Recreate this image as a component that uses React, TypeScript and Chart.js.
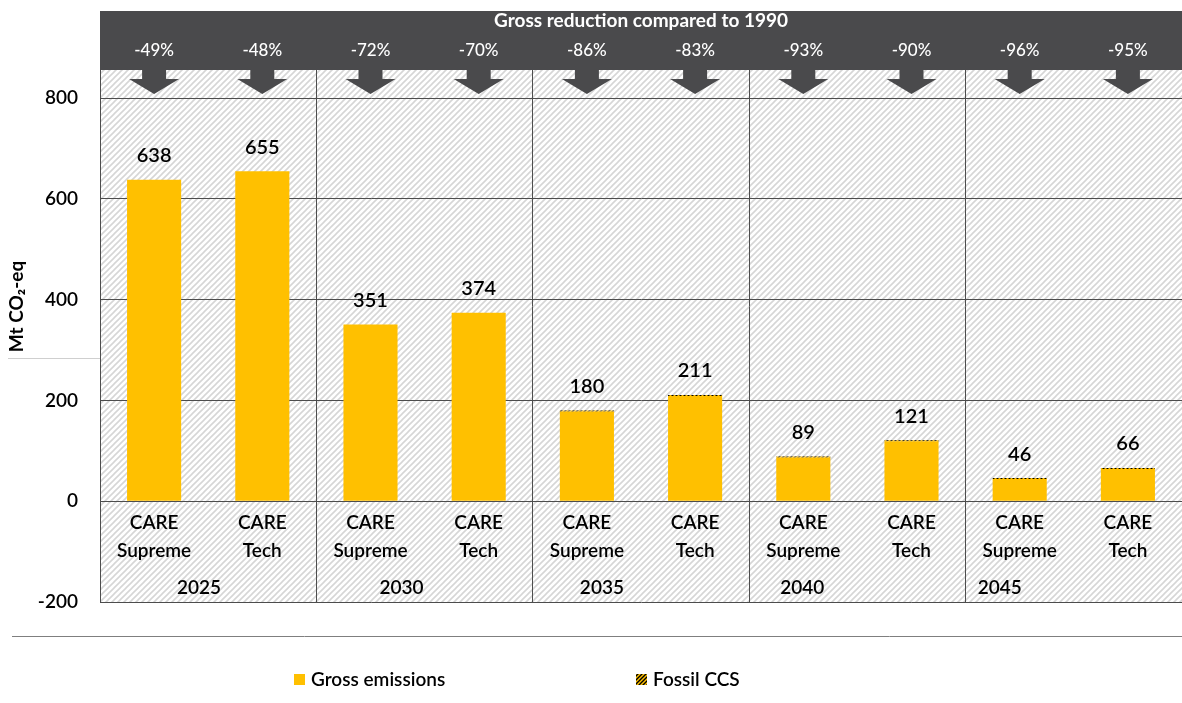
import React, { useEffect, useRef } from 'react';
import { Chart, registerables } from 'chart.js';

Chart.register(...registerables);

// ---------- data ----------
const categories: string[][] = [
  ['CARE', 'Supreme'], ['CARE', 'Tech'],
  ['CARE', 'Supreme'], ['CARE', 'Tech'],
  ['CARE', 'Supreme'], ['CARE', 'Tech'],
  ['CARE', 'Supreme'], ['CARE', 'Tech'],
  ['CARE', 'Supreme'], ['CARE', 'Tech'],
];
const years = ['2025', '2030', '2035', '2040', '2045'];
const grossEmissions = [638, 655, 351, 374, 178, 209, 87, 119, 44, 64];
const fossilCCS = [0, 0, 0, 0, 2, 2, 2, 2, 2, 2];
const reductions = ['-49%', '-48%', '-72%', '-70%', '-86%', '-83%', '-93%', '-90%', '-96%', '-95%'];
const yTicks = [-200, 0, 200, 400, 600, 800];
const bannerTitle = 'Gross reduction compared to 1990';
const seriesNames = ['Gross emissions', 'Fossil CCS'];

// ---------- style ----------
const FONT = 'Lato, "Noto Sans", sans-serif';
const W = 600;
const GOLD = '#FFC000';
const GRID = '#4d4d4d';
const BANNER = '#4a4a4c';

function makeHatch(bg: string, fg: string, size: number, lw: number) {
  const c = document.createElement('canvas');
  c.width = size;
  c.height = size;
  const g = c.getContext('2d')!;
  g.fillStyle = bg;
  g.fillRect(0, 0, size, size);
  g.strokeStyle = fg;
  g.lineWidth = lw;
  g.beginPath();
  g.moveTo(0, size); g.lineTo(size, 0);
  g.moveTo(-size / 2, size / 2); g.lineTo(size / 2, -size / 2);
  g.moveTo(size / 2, size * 1.5); g.lineTo(size * 1.5, size / 2);
  g.stroke();
  return g.createPattern(c, 'repeat')!;
}

export default function App() {
  const ref = useRef<HTMLCanvasElement | null>(null);

  useEffect(() => {
    if (!ref.current) return;
    const bgHatch = makeHatch('#ffffff', '#d6d6d6', 6, 1.6);
    const ccsHatch = makeHatch(GOLD, '#000000', 4, 1.4);

    const yearOffsets = [45, 31, 15, -1, -20];

    const decor = {
      id: 'decor',
      beforeDraw(chart: any) {
        const { ctx, chartArea: a } = chart;
        ctx.save();
        ctx.fillStyle = bgHatch;
        ctx.fillRect(a.left, a.top, a.right - a.left, a.bottom - a.top);
        ctx.strokeStyle = '#cfcfcf';
        ctx.lineWidth = 1;
        ctx.beginPath();
        ctx.moveTo(8, 358.5);
        ctx.lineTo(a.left, 358.5);
        ctx.stroke();
        ctx.strokeStyle = '#7f7f7f';
        ctx.beginPath();
        ctx.moveTo(12, 636.5);
        ctx.lineTo(chart.width, 636.5);
        ctx.stroke();
        ctx.restore();
      },
      afterDatasetsDraw(chart: any) {
        const { ctx } = chart;
        const y = chart.scales.y;
        const meta = chart.getDatasetMeta(0);
        ctx.save();
        ctx.font = `${W} 20px ${FONT}`;
        ctx.fillStyle = '#000';
        ctx.textAlign = 'center';
        ctx.textBaseline = 'middle';
        grossEmissions.forEach((v, i) => {
          const total = v + fossilCCS[i];
          const bar = meta.data[i];
          ctx.fillText(String(total), bar.x, y.getPixelForValue(total) - 24);
        });
        ctx.restore();
      },
      afterDraw(chart: any) {
        const { ctx, chartArea: a } = chart;
        const x = chart.scales.x;
        const meta = chart.getDatasetMeta(0);
        ctx.save();
        const bannerBottom = a.top + 59;
        ctx.fillStyle = BANNER;
        ctx.fillRect(a.left, a.top, a.right - a.left, bannerBottom - a.top);
        meta.data.forEach((bar: any) => {
          const cx = bar.x;
          ctx.beginPath();
          ctx.moveTo(cx - 12, bannerBottom - 1);
          ctx.lineTo(cx + 12, bannerBottom - 1);
          ctx.lineTo(cx + 12, bannerBottom + 9);
          ctx.lineTo(cx + 25, bannerBottom + 9);
          ctx.lineTo(cx, bannerBottom + 24);
          ctx.lineTo(cx - 25, bannerBottom + 9);
          ctx.lineTo(cx - 12, bannerBottom + 9);
          ctx.closePath();
          ctx.fill();
        });
        ctx.fillStyle = '#ffffff';
        ctx.textAlign = 'center';
        ctx.textBaseline = 'middle';
        ctx.font = `bold 19px ${FONT}`;
        ctx.fillText(bannerTitle, (a.left + a.right) / 2, a.top + 10);
        ctx.font = `500 17px ${FONT}`;
        reductions.forEach((r, i) => {
          ctx.fillText(r, meta.data[i].x, a.top + 40);
        });
        ctx.fillStyle = '#000';
        ctx.font = `${W} 19px ${FONT}`;
        years.forEach((yr, g) => {
          ctx.fillText(yr, x.getPixelForValue(g * 2) + yearOffsets[g], a.bottom - 14);
        });
        const items = [
          { label: seriesNames[0], fill: GOLD, x: 294 },
          { label: seriesNames[1], fill: ccsHatch, x: 636 },
        ];
        ctx.textAlign = 'left';
        ctx.font = `${W} 19px ${FONT}`;
        items.forEach((it) => {
          ctx.fillStyle = it.fill as any;
          ctx.fillRect(it.x, 674, 11, 11);
          ctx.fillStyle = '#000';
          ctx.fillText(it.label, it.x + 17, 680);
        });
        ctx.restore();
      },
    };

    const chart = new Chart(ref.current, {
      type: 'bar',
      data: {
        labels: categories,
        datasets: [
          {
            label: seriesNames[0],
            data: grossEmissions,
            backgroundColor: GOLD,
            borderWidth: 0,
            barPercentage: 0.5,
            categoryPercentage: 1,
          },
          {
            label: seriesNames[1],
            data: fossilCCS,
            backgroundColor: ccsHatch as any,
            borderWidth: 0,
            barPercentage: 0.5,
            categoryPercentage: 1,
          },
        ],
      },
      options: {
        responsive: true,
        maintainAspectRatio: false,
        animation: false,
        layout: { padding: { top: 11, left: 0, right: 0, bottom: 101 } },
        plugins: {
          legend: { display: false },
          tooltip: { enabled: false },
        },
        scales: {
          x: {
            stacked: true,
            offset: true,
            position: { y: 0 } as any,
            grid: {
              offset: true,
              drawTicks: false,
              lineWidth: 1,
              color: (c: any) => (c.index !== undefined && c.index % 2 === 0 ? GRID : 'rgba(0,0,0,0)'),
            },
            border: { display: true, color: GRID, width: 1 },
            ticks: {
              padding: 8,
              color: '#000',
              maxRotation: 0,
              autoSkip: false,
              font: { family: FONT, size: 19, lineHeight: 1.47, weight: W as any },
            },
          },
          y: {
            stacked: true,
            min: -200,
            max: 973,
            afterBuildTicks: (s: any) => { s.ticks = yTicks.map((v) => ({ value: v })); },
            grid: { drawTicks: false, color: GRID, lineWidth: 1 },
            border: { display: true, color: GRID, width: 1 },
            ticks: {
              padding: 22,
              color: '#000',
              font: { family: FONT, size: 19, weight: W as any },
            },
            title: {
              display: true,
              text: 'Mt CO₂-eq',
              color: '#000',
              font: { family: FONT, size: 19, weight: 'bold' },
              padding: { top: 5, bottom: 0 },
            },
            afterFit: (s: any) => {
              s.width = 100;
              s.paddingTop = 0;
              s.paddingBottom = 0;
            },
          },
        },
      },
      plugins: [decor],
    });
    return () => chart.destroy();
  }, []);

  return (
    <div style={{ position: 'absolute', left: 0, top: 0, width: 1182, height: 703, background: '#fff' }}>
      <canvas ref={ref} />
    </div>
  );
}
